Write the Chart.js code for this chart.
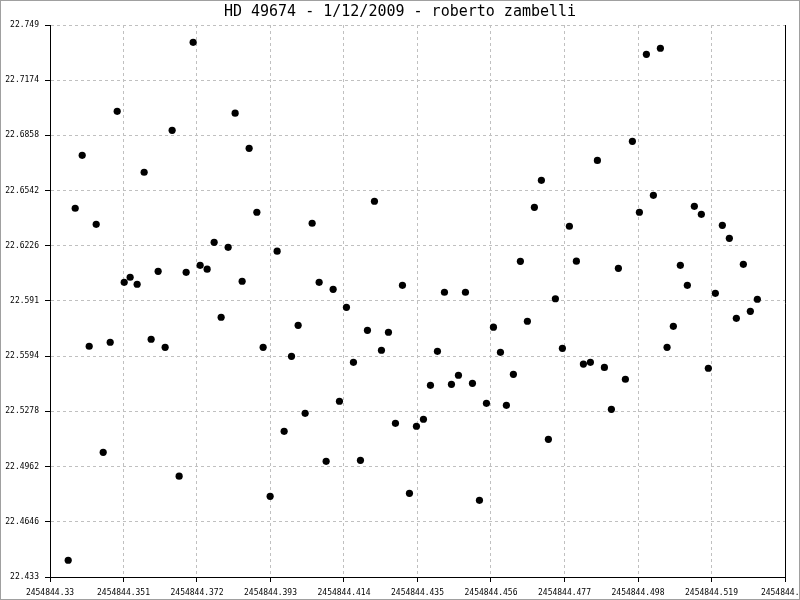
<!DOCTYPE html>
<html>
<head>
<meta charset="utf-8">
<script src="https://cdn.jsdelivr.net/npm/chart.js@4/dist/chart.umd.min.js"></script>
<style>
html,body{margin:0;padding:0;background:#fff;}
canvas{display:block;}
</style>
</head>
<body>
<canvas id="c" width="800" height="600"></canvas>
<script>
const chartTitle = "HD 49674 - 1/12/2009 - roberto zambelli";

const jd = [
2454844.3352,2454844.3372,2454844.3392,2454844.3412,2454844.3432,2454844.3452,2454844.3472,2454844.3492,2454844.3512,2454844.3529,
2454844.3549,2454844.3569,2454844.3589,2454844.3609,2454844.3629,2454844.3649,2454844.3669,2454844.3689,2454844.3709,2454844.3729,
2454844.3749,2454844.3769,2454844.3789,2454844.3809,2454844.3829,2454844.3849,2454844.3869,2454844.3891,2454844.3909,2454844.3929,
2454844.3949,2454844.3969,2454844.3990,2454844.4009,2454844.4029,2454844.4049,2454844.4069,2454844.4089,2454844.4109,2454844.4127,
2454844.4147,2454844.4167,2454844.4187,2454844.4207,2454844.4227,2454844.4247,2454844.4267,2454844.4287,2454844.4307,2454844.4327,
2454844.4347,2454844.4367,2454844.4387,2454844.4407,2454844.4427,2454844.4447,2454844.4467,2454844.4487,2454844.4507,2454844.4527,
2454844.4547,2454844.4567,2454844.4587,2454844.4604,2454844.4624,2454844.4644,2454844.4664,2454844.4684,2454844.4704,2454844.4724,
2454844.4744,2454844.4764,2454844.4784,2454844.4804,2454844.4824,2454844.4844,2454844.4864,2454844.4884,2454844.4904,2454844.4924,
2454844.4944,2454844.4964,2454844.4984,2454844.5004,2454844.5024,2454844.5044,2454844.5063,2454844.5081,2454844.5101,2454844.5121,
2454844.5141,2454844.5161,2454844.5181,2454844.5201,2454844.5221,2454844.5241,2454844.5261,2454844.5281,2454844.5301,2454844.5321
];

const mag = [
22.4426,22.6441,22.6744,22.5651,22.6349,22.5044,22.5674,22.6996,22.6017,22.6046,
22.6006,22.6647,22.5691,22.6080,22.5645,22.6887,22.4907,22.6074,22.7391,22.6114,
22.6092,22.6246,22.5817,22.6217,22.6985,22.6023,22.6784,22.6418,22.5645,22.4792,
22.6195,22.5164,22.5593,22.5771,22.5267,22.6355,22.6017,22.4992,22.5977,22.5336,
22.5874,22.5559,22.4998,22.5742,22.6481,22.5628,22.5731,22.5210,22.6000,22.4809,
22.5193,22.5233,22.5427,22.5622,22.5960,22.5433,22.5485,22.5960,22.5439,22.4769,
22.5324,22.5760,22.5616,22.5313,22.5490,22.6137,22.5794,22.6446,22.6601,22.5118,
22.5923,22.5639,22.6338,22.6138,22.5549,22.5559,22.6715,22.5530,22.5290,22.6097,
22.5462,22.6824,22.6418,22.7322,22.6515,22.7357,22.5645,22.5765,22.6114,22.6000,
22.6452,22.6406,22.5525,22.5954,22.6343,22.6269,22.5811,22.6120,22.5851,22.5920
];

const xTicks = [2454844.33,2454844.351,2454844.372,2454844.393,2454844.414,2454844.435,2454844.456,2454844.477,2454844.498,2454844.519,2454844.54];
const xTickLabels = ["2454844.33","2454844.351","2454844.372","2454844.393","2454844.414","2454844.435","2454844.456","2454844.477","2454844.498","2454844.519","2454844.54"];
const yTicks = [22.433,22.4646,22.4962,22.5278,22.5594,22.591,22.6226,22.6542,22.6858,22.7174,22.749];
const yTickLabels = ["22.433","22.4646","22.4962","22.5278","22.5594","22.591","22.6226","22.6542","22.6858","22.7174","22.749"];

const MONO = "'DejaVu Sans Mono', 'Liberation Mono', monospace";

const decor = {
  id: 'decor',
  beforeDraw(chart) {
    const ctx = chart.ctx;
    ctx.save();
    ctx.fillStyle = '#fff';
    ctx.fillRect(0, 0, chart.width, chart.height);
    ctx.restore();
  },
  afterDraw(chart) {
    const ctx = chart.ctx;
    const a = chart.chartArea;
    ctx.save();
    ctx.strokeStyle = '#000';
    ctx.lineWidth = 1;
    ctx.beginPath();
    ctx.moveTo(Math.round(a.right) + 0.5, a.top);
    ctx.lineTo(Math.round(a.right) + 0.5, a.bottom + 5);
    ctx.stroke();
    ctx.fillStyle = '#000';
    ctx.font = "15px " + MONO;
    ctx.textAlign = 'center';
    ctx.textBaseline = 'middle';
    ctx.fillText(chartTitle, 400, 12);
    ctx.strokeStyle = '#a0a0a0';
    ctx.strokeRect(0.5, 0.5, chart.width - 1, chart.height - 1);
    ctx.restore();
  }
};

new Chart(document.getElementById('c'), {
  type: 'scatter',
  data: {
    datasets: [{
      data: jd.map((x, i) => ({x: x, y: mag[i]})),
      backgroundColor: '#000',
      borderWidth: 0,
      pointRadius: 3.6,
      pointHoverRadius: 3.6
    }]
  },
  options: {
    responsive: false,
    animation: false,
    events: [],
    layout: { padding: { top: 25, right: 15, left: 0, bottom: 0 } },
    plugins: { legend: { display: false }, tooltip: { enabled: false }, title: { display: false } },
    scales: {
      x: {
        type: 'linear',
        min: xTicks[0],
        max: xTicks[xTicks.length - 1],
        afterBuildTicks(scale) { scale.ticks = xTicks.map(v => ({value: v})); },
        afterFit(scale) { scale.height = 23; scale.paddingLeft = 0; scale.paddingRight = 0; },
        ticks: {
          autoSkip: false, maxRotation: 0, minRotation: 0,
          color: '#000', padding: 6,
          font: { family: MONO, size: 8 },
          callback: (v, i) => xTickLabels[i]
        },
        grid: { color: '#c0c0c0', lineWidth: 1, tickColor: '#000', tickLength: 5, tickWidth: 1 },
        border: { color: '#000', width: 1, dash: [3, 3] }
      },
      y: {
        type: 'linear',
        min: yTicks[0],
        max: yTicks[yTicks.length - 1],
        afterBuildTicks(scale) { scale.ticks = yTicks.map(v => ({value: v})); },
        afterFit(scale) { scale.width = 50; scale.paddingTop = 0; scale.paddingBottom = 0; },
        ticks: {
          autoSkip: false, color: '#000', padding: 6,
          font: { family: MONO, size: 8 },
          callback: (v, i) => yTickLabels[i]
        },
        grid: { color: '#c0c0c0', lineWidth: 1, tickColor: '#000', tickLength: 5, tickWidth: 1 },
        border: { color: '#000', width: 1, dash: [3, 3] }
      }
    }
  },
  plugins: [decor]
});
</script>
</body>
</html>
